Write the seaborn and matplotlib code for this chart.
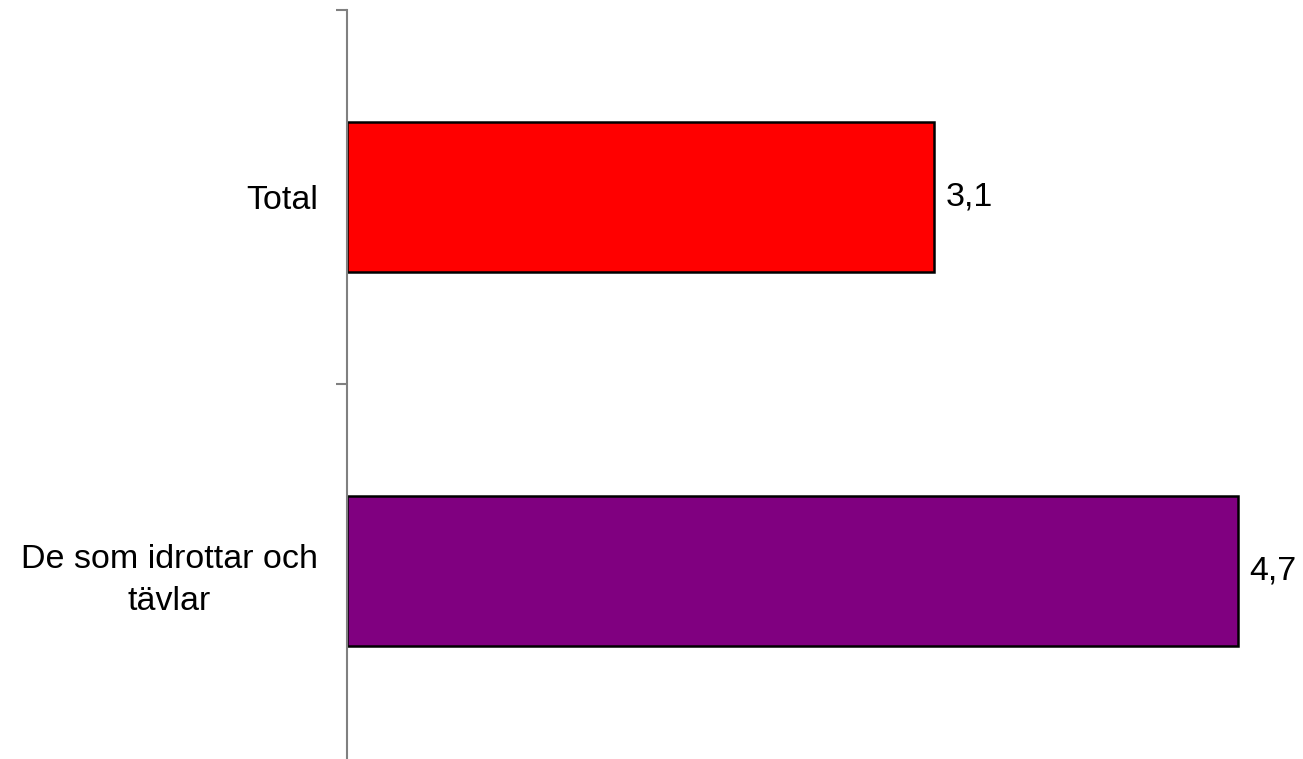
import matplotlib
matplotlib.use("Agg")
import matplotlib.pyplot as plt
import seaborn as sns
import pandas as pd

# Data
categories = ["Total", "De som idrottar och\ntävlar"]
values = [3.1, 4.7]
colors = ["#FF0000", "#800080"]

df = pd.DataFrame({"grupp": categories, "varde": values})

sns.set_style("white")
plt.rcParams['font.family'] = ['Liberation Sans', 'DejaVu Sans']
plt.rcParams['text.color'] = 'black'
plt.rcParams['ytick.labelcolor'] = 'black'

fig = plt.figure(figsize=(13.03, 7.59), dpi=100)
ax = fig.add_axes([347 / 1303, 1 / 759, 947.5 / 1303, 748 / 759])

sns.barplot(data=df, x="varde", y="grupp", hue="grupp", palette=colors,
            orient="h", width=0.4, saturation=1, edgecolor="black",
            linewidth=1.8, legend=False, ax=ax)

# Etiketter med decimalkomma
for cont, v in zip(ax.containers, values):
    ax.bar_label(cont, labels=[f"{v:.1f}".replace(".", ",")], padding=8,
                 fontsize=24.5, color="black")

ax.set_xlim(0, 5)
ax.set_ylim(1.5, -0.5)
ax.set_xlabel("")
ax.set_ylabel("")
ax.set_xticks([])

ax.set_yticks(range(len(categories)))
ax.set_yticklabels(categories, fontsize=24.5, multialignment="center",
                   linespacing=1.5, color="black")
ax.set_yticks([-0.5, 0.5], minor=True)
ax.tick_params(axis="y", which="major", length=0, pad=21)
ax.tick_params(axis="y", which="minor", length=8, width=1.5, color="#808080", left=True)

for s in ["top", "right", "bottom"]:
    ax.spines[s].set_visible(False)
ax.spines["left"].set_color("#808080")
ax.spines["left"].set_linewidth(1.5)

fig.savefig("out.png", dpi=100)
